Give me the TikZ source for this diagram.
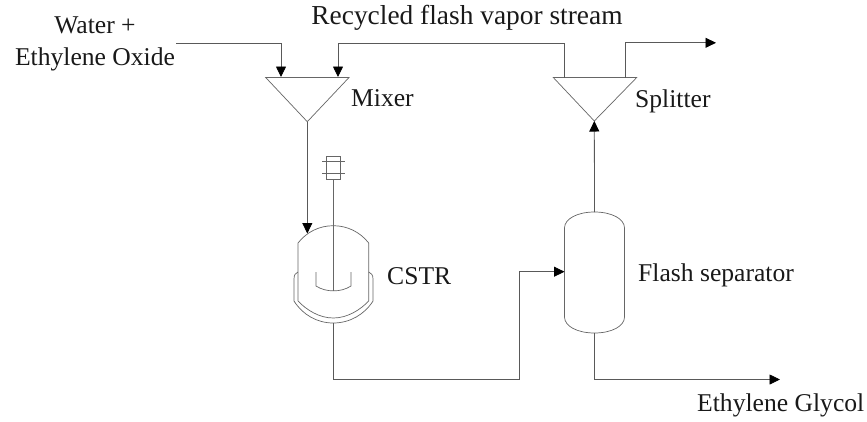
\documentclass[tikz,border=0pt]{standalone}
\usepackage{fontspec}
\setmainfont{Liberation Serif}
\usetikzlibrary{arrows.meta}
\tikzset{
 x=1pt,y=-1pt,
 pipe/.style={draw=black!65,line width=0.8pt},
 flow/.style={pipe,-{Triangle[length=10.5pt,width=10pt,fill=black,color=black]}},
 unit/.style={draw=black!60,line width=0.7pt},
 lbl/.style={inner sep=0pt,anchor=base west,font=\fontsize{25.6}{32.5}\selectfont,text=black!90},
}
\begin{document}
\begin{tikzpicture}
\useasboundingbox (0,0) rectangle (867,421);
\coordinate (feedin) at (176,43.5);
\coordinate (mixL) at (281,77);
\coordinate (mixR) at (338,77);
\coordinate (mixT) at (307.3,121.7);
\coordinate (splL) at (564.5,77.5);
\coordinate (splR) at (625,77.5);
\coordinate (splT) at (594.3,121);
\coordinate (prod) at (716,42.8);
\coordinate (egl) at (780,379.5);
\coordinate (cstrin) at (307.3,233.5);
\coordinate (cstrout) at (333.3,323);
\coordinate (flashin) at (564.5,271.7);
\coordinate (flashtop) at (594.5,212);
\coordinate (flashbot) at (594.5,333);
% units
\draw[unit,fill=white] (265.7,77.5) -- (349,77.5) -- (mixT) -- cycle;
\draw[unit,fill=white] (553.3,77.5) -- (636.7,77.5) -- (splT) -- cycle;
% vessel
\draw[unit] (298,243) .. controls (306.5,232.1) and (319.2,225.7) .. (333.3,225.7) .. controls (347.4,225.7) and (360.2,232.1) .. (368.7,243) -- (368.7,301) .. controls (360.2,309.9) and (347.4,318) .. (333.3,318) .. controls (319.2,318) and (306.5,309.9) .. (298,301) -- cycle;
\draw[unit] (298,272) .. controls (295.5,272.8) and (294,275) .. (294,279) -- (294,301) .. controls (302.5,314.6) and (317,323) .. (333.3,323) .. controls (349.6,323) and (364.5,314.6) .. (373,301) -- (373,279) .. controls (373,275) and (371.2,272.8) .. (368.7,272);
% agitator
\draw[unit] (333.3,291) -- (333.3,179.3);
\draw[unit] (316,272) -- (316,286) .. controls (326,292.5) and (341,292.5) .. (351,286) -- (351,272);
\draw[unit] (326,156) rectangle (340.7,179.3);
\draw[unit] (322,161.7) -- (345,161.7);
\draw[unit] (322,173.3) -- (345,173.3);
% flash
\draw[unit] (564.5,228) .. controls (564.5,219) and (577,212) .. (flashtop) .. controls (612,212) and (624.5,219) .. (624.5,228) -- (624.5,317) .. controls (624.5,326) and (612,333) .. (flashbot) .. controls (577,333) and (564.5,326) .. (564.5,317) -- cycle;
% pipes
\draw[flow] (feedin) -- (281,43.5) -- (mixL);
\draw[flow] (splL) -- (564.5,43.5) -- (338,43.5) -- (mixR);
\draw[flow] (splR) -- (625,42.8) -- (prod);
\draw[flow] (mixT) -- (cstrin);
\draw[flow] (flashtop) -- (splT);
\draw[flow] (cstrout) -- (333.3,379.5) -- (519.5,379.5) -- (519.5,271.7) -- (flashin);
\draw[flow] (flashbot) -- (594.5,379.5) -- (egl);
% labels
\node[lbl,anchor=base,align=center] (feed) at (95,65.7) {Water +\\Ethylene Oxide};
\node[lbl,anchor=base] (rec) at (467,24) {\fontsize{27.4}{32.5}\selectfont Recycled flash vapor stream};
\node[lbl] (mixl) at (351,106.7) {Mixer};
\node[lbl] (spl) at (635,107.3) {Splitter};
\node[lbl] (cstr) at (387,284) {CSTR};
\node[lbl] (fl) at (638,281) {Flash separator};
\node[lbl] (eg) at (697,411.7) {Ethylene Glycol};
\end{tikzpicture}
\end{document}
